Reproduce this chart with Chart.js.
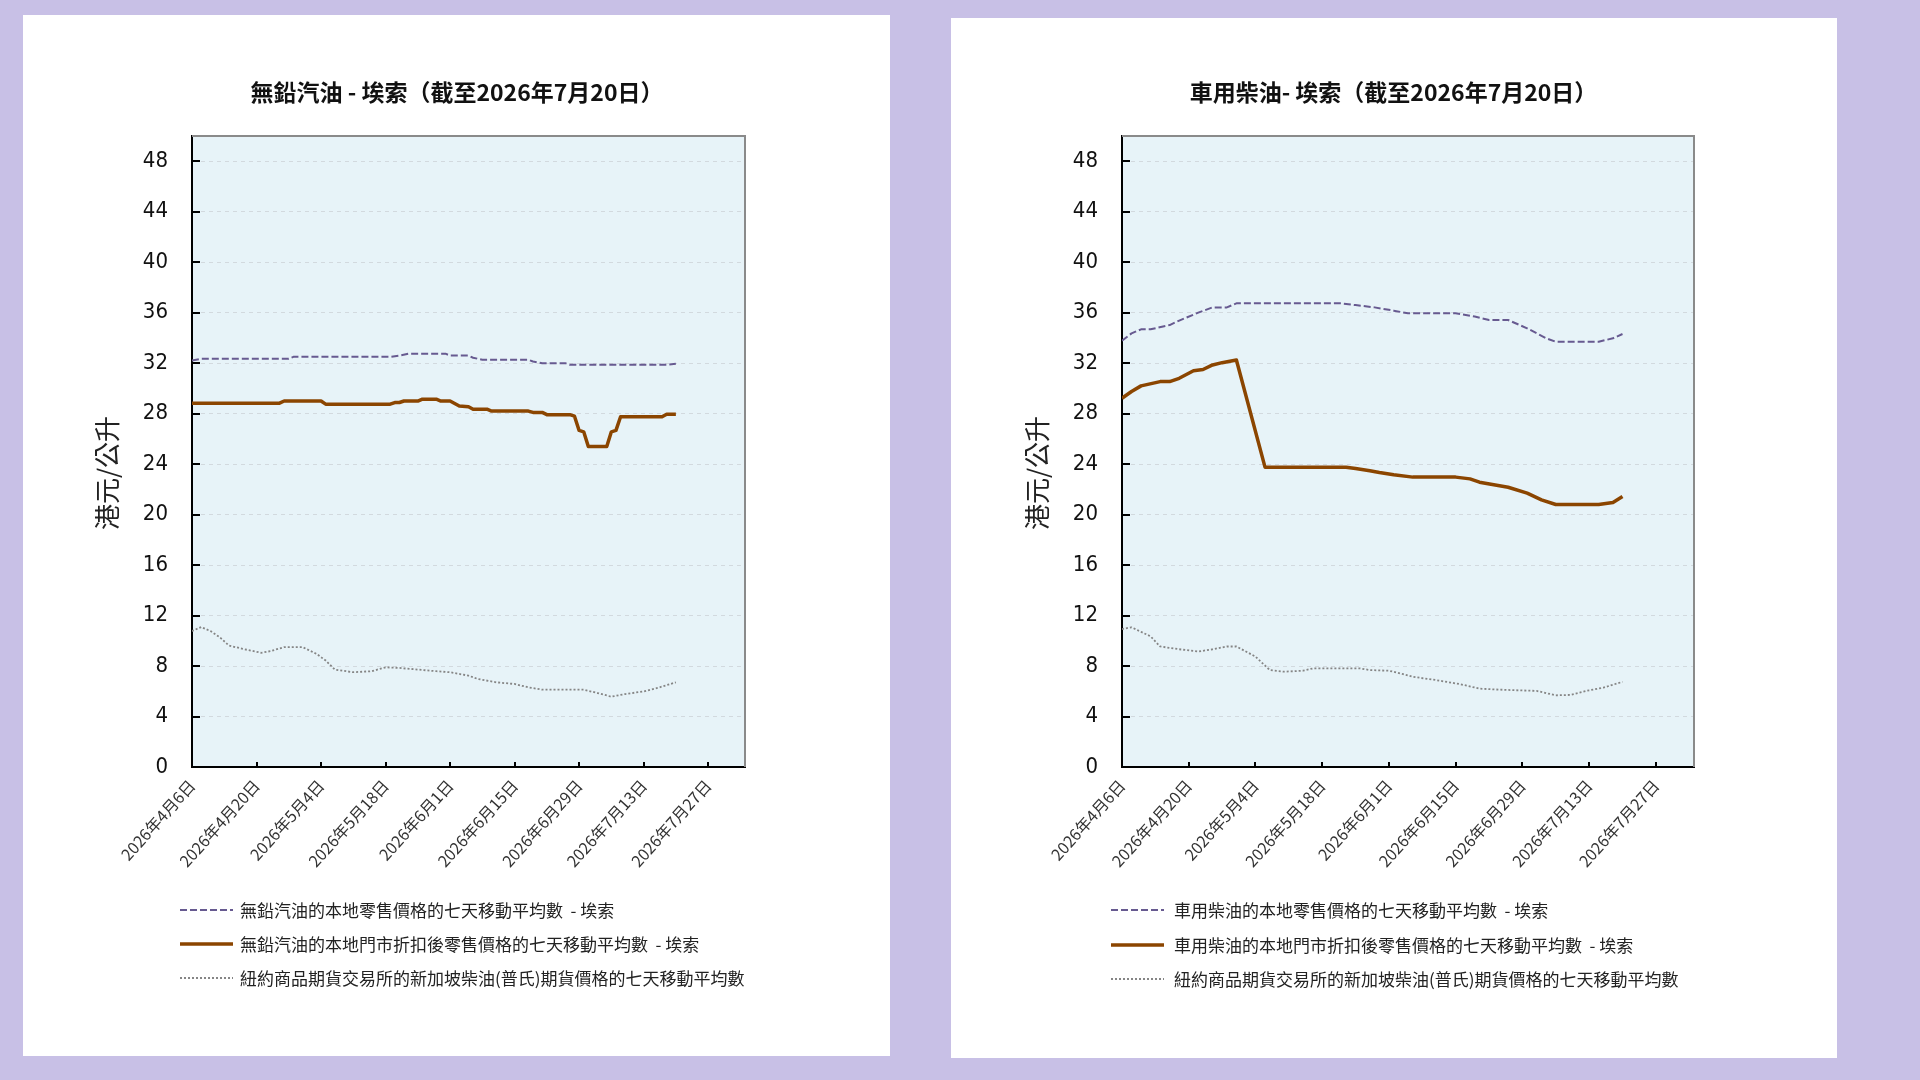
<!DOCTYPE html>
<html>
<head>
<meta charset="utf-8">
<script src="https://cdn.jsdelivr.net/npm/chart.js@4.4.1/dist/chart.umd.min.js"></script>
<style>
  html, body { margin:0; padding:0; }
  body { width:1920px; height:1080px; background:#c8c0e6; position:relative; overflow:hidden; font-family:"Noto Sans CJK TC","Noto Sans",sans-serif; }
  .panel { position:absolute; background:#ffffff; }
  .box { position:absolute; left:0; top:0; width:100%; height:100%; }
  .legend { position:absolute; left:0; top:0; }
  .row { position:absolute; display:flex; align-items:center; white-space:pre; font-size:17px; color:#222; line-height:20px; }
  .row svg { display:block; }
</style>
</head>
<body>
<div class="panel" id="p1" style="left:23px; top:15px; width:867px; height:1041px;">
  <div class="box"><canvas id="c1"></canvas></div>
  <div class="legend" id="l1"></div>
</div>
<div class="panel" id="p2" style="left:951px; top:18px; width:886px; height:1040px;">
  <div class="box"><canvas id="c2"></canvas></div>
  <div class="legend" id="l2"></div>
</div>
<script>
// ---------- shared axis data ----------
const xTickDays = [0, 14, 28, 42, 56, 70, 84, 98, 112];
const xTickLabels = ['2026年4月6日','2026年4月20日','2026年5月4日','2026年5月18日','2026年6月1日','2026年6月15日','2026年6月29日','2026年7月13日','2026年7月27日'];
const yTickValues = [0, 4, 8, 12, 16, 20, 24, 28, 32, 36, 40, 44, 48];
const yAxisTitle = '港元/公升';

// ---------- left chart: unleaded petrol ----------
const petrolTitle = '無鉛汽油 - 埃索（截至2026年7月20日）';
const petrolLabels = [
  '無鉛汽油的本地零售價格的七天移動平均數  - 埃索',
  '無鉛汽油的本地門市折扣後零售價格的七天移動平均數  - 埃索',
  '紐約商品期貨交易所的新加坡柴油(普氏)期貨價格的七天移動平均數'
];
const petrolRetailDays = [0, 2, 21, 22, 43, 45, 47, 55, 56, 60, 61, 63, 73, 74, 76, 81, 82, 103, 105];
const petrolRetailVals = [32.2, 32.35, 32.35, 32.5, 32.5, 32.6, 32.75, 32.75, 32.6, 32.6, 32.43, 32.27, 32.27, 32.13, 32.0, 32.0, 31.87, 31.87, 31.95];
const petrolDiscDays = [0, 19, 20, 28, 29, 43, 44, 45, 46, 49, 50, 53, 54, 56, 58, 60, 61, 64, 65, 73, 74, 76, 77, 82, 83, 84, 85, 86, 90, 91, 92, 93, 102, 103, 105];
const petrolDiscVals = [28.83, 28.83, 29.0, 29.0, 28.75, 28.75, 28.88, 28.88, 29.0, 29.0, 29.15, 29.15, 29.0, 29.0, 28.6, 28.55, 28.35, 28.35, 28.2, 28.2, 28.1, 28.1, 27.92, 27.92, 27.8, 26.67, 26.56, 25.4, 25.4, 26.56, 26.67, 27.75, 27.75, 27.95, 27.95];
const petrolFutDays = [0, 2, 4, 6, 8, 11, 15, 17, 20, 24, 27, 29, 31, 35, 39, 42, 45, 49, 53, 56, 60, 62, 66, 70, 73, 76, 85, 88, 91, 94, 98, 101, 105];
const petrolFutVals = [10.77, 11.09, 10.77, 10.29, 9.63, 9.36, 9.05, 9.18, 9.5, 9.5, 8.97, 8.44, 7.72, 7.51, 7.59, 7.9, 7.85, 7.72, 7.59, 7.51, 7.24, 6.98, 6.71, 6.58, 6.31, 6.13, 6.13, 5.86, 5.57, 5.78, 5.99, 6.26, 6.71];

// ---------- right chart: diesel ----------
const dieselTitle = '車用柴油- 埃索（截至2026年7月20日）';
const dieselLabels = [
  '車用柴油的本地零售價格的七天移動平均數  - 埃索',
  '車用柴油的本地門市折扣後零售價格的七天移動平均數  - 埃索',
  '紐約商品期貨交易所的新加坡柴油(普氏)期貨價格的七天移動平均數'
];
const dieselRetailDays = [0, 2, 4, 6, 10, 12, 16, 19, 22, 24, 46, 49, 53, 57, 60, 70, 74, 77, 81, 85, 89, 91, 100, 103, 105];
const dieselRetailVals = [33.78, 34.36, 34.68, 34.68, 35.02, 35.37, 36.0, 36.42, 36.42, 36.74, 36.74, 36.6, 36.42, 36.16, 35.95, 35.95, 35.7, 35.42, 35.42, 34.76, 33.97, 33.7, 33.7, 33.97, 34.31];
const dieselDiscDays = [0, 2, 4, 8, 10, 12, 15, 17, 19, 21, 24, 30, 47, 49, 52, 54, 57, 61, 70, 73, 75, 81, 85, 88, 91, 100, 103, 105];
const dieselDiscVals = [29.22, 29.75, 30.2, 30.54, 30.54, 30.8, 31.4, 31.5, 31.86, 32.04, 32.25, 23.76, 23.76, 23.65, 23.47, 23.33, 23.15, 22.97, 22.97, 22.83, 22.57, 22.17, 21.7, 21.17, 20.8, 20.8, 20.96, 21.44];
const dieselFutDays = [0, 2, 6, 8, 12, 16, 19, 22, 24, 28, 31, 34, 38, 40, 50, 52, 56, 59, 61, 66, 71, 75, 79, 87, 91, 94, 98, 101, 105];
const dieselFutVals = [10.93, 11.07, 10.35, 9.55, 9.33, 9.15, 9.33, 9.55, 9.55, 8.75, 7.68, 7.55, 7.63, 7.81, 7.81, 7.68, 7.63, 7.36, 7.15, 6.88, 6.56, 6.21, 6.13, 6.03, 5.68, 5.71, 6.08, 6.29, 6.75];

// ---------- styles ----------
const retailStyle = { borderColor:'#675a90', borderWidth:2, borderDash:[7,3] };
const discStyle   = { borderColor:'#8b4500', borderWidth:3.5, borderDash:[] };
const futStyle    = { borderColor:'#858585', borderWidth:1.8, borderDash:[2,2] };

function pts(days, vals){ return days.map((d,i)=>({x:d, y:vals[i]})); }

const framePlugin = {
  id:'frame',
  beforeDraw(chart){
    const {ctx, chartArea:a} = chart;
    ctx.save();
    ctx.fillStyle = '#e7f3f8';
    ctx.fillRect(a.left, a.top, a.right-a.left, a.bottom-a.top);
    ctx.restore();
  },
  afterDraw(chart, args, opts){
    const {ctx, chartArea:a, scales:{x, y}} = chart;
    ctx.save();
    ctx.strokeStyle = '#8a8a8a'; ctx.lineWidth = 2; ctx.setLineDash([]);
    ctx.beginPath(); ctx.moveTo(a.left, a.top); ctx.lineTo(a.right, a.top); ctx.lineTo(a.right, a.bottom); ctx.stroke();
    ctx.strokeStyle = '#000'; ctx.lineWidth = 2;
    y.ticks.forEach(t=>{ const py = Math.round(y.getPixelForValue(t.value)); ctx.beginPath(); ctx.moveTo(a.left, py); ctx.lineTo(a.left+8, py); ctx.stroke(); });
    x.ticks.forEach(t=>{ const px = Math.round(x.getPixelForValue(t.value)); ctx.beginPath(); ctx.moveTo(px, a.bottom); ctx.lineTo(px, a.bottom-5); ctx.stroke(); });
    // y-axis title
    ctx.translate(opts.titleX, opts.titleY);
    ctx.rotate(-Math.PI/2);
    ctx.fillStyle = '#222';
    ctx.font = '26px "Noto Sans CJK TC", sans-serif';
    ctx.textAlign = 'center'; ctx.textBaseline = 'middle';
    ctx.fillText(yAxisTitle, 0, 0);
    ctx.restore();
  }
};

function makeChart(canvasId, title, labels, series, lay){
  const styles = [retailStyle, discStyle, futStyle];
  const datasets = series.map((s,i)=>Object.assign({
    label: labels[i],
    data: pts(s[0], s[1]),
    fill:false, pointRadius:0, tension:0, borderJoinStyle:'round', borderCapStyle:'butt'
  }, styles[i]));
  datasets[1].order = 0; datasets[0].order = 1; datasets[2].order = 2;
  return new Chart(document.getElementById(canvasId), {
    type:'line',
    data:{ datasets },
    plugins:[framePlugin],
    options:{
      responsive:true, maintainAspectRatio:false, animation:false,
      layout:{ padding:{ left:lay.left, right:lay.right, top:0, bottom:lay.bottom } },
      plugins:{
        legend:{ display:false },
        tooltip:{ enabled:false },
        title:{ display:true, text:title, color:'#111',
          font:{ family:'"Noto Sans CJK TC", sans-serif', size:23, weight:'bold', lineHeight:1.2 },
          padding:{ top:lay.titleTop, bottom:lay.titleBottom } },
        frame:{ titleX:lay.ytX, titleY:lay.ytY }
      },
      scales:{
        x:{ type:'linear', min:0, max:120,
          afterBuildTicks:(sc)=>{ sc.ticks = xTickDays.map(v=>({value:v})); },
          afterFit:(sc)=>{ sc.height = 130; },
          grid:{ display:false, drawTicks:false },
          border:{ display:true, color:'#000', width:2 },
          ticks:{ autoSkip:false, minRotation:48, maxRotation:48, padding:9, color:'#333',
            font:{ family:'"Noto Sans CJK TC", sans-serif', size:16 },
            callback:(v)=>{ const i = xTickDays.indexOf(v); return i>=0 ? xTickLabels[i] : ''; } }
        },
        y:{ type:'linear', min:0, max:50,
          afterBuildTicks:(sc)=>{ sc.ticks = yTickValues.map(v=>({value:v})); },
          afterFit:(sc)=>{ sc.width = 70; },
          grid:{ display:true, drawTicks:false, lineWidth:1,
            color:(c)=> (c.tick && c.tick.value===0) ? 'rgba(0,0,0,0)' : '#d2d9de' },
          border:{ display:true, color:'#000', width:2, dash:[4,4] },
          ticks:{ padding:24, color:'#111',
            font:{ family:'"Liberation Sans Narrow","DejaVu Sans Condensed","Liberation Sans",sans-serif', size:22 } }
        },
        // empty spacer on the right so the title centres where the original does
        yR:{ type:'linear', position:'right', min:0, max:50, display:true,
          afterFit:(sc)=>{ sc.width = lay.spacer; },
          grid:{ display:false, drawTicks:false },
          border:{ display:false },
          ticks:{ display:false }
        }
      }
    }
  });
}

function buildLegend(chart, elId, lay){
  const el = document.getElementById(elId);
  chart.data.datasets.forEach((ds, i)=>{
    const row = document.createElement('div');
    row.className = 'row';
    row.style.left = lay.legLeft + 'px';
    row.style.top = (lay.legTop[i] - 10) + 'px';
    const svg = document.createElementNS('http://www.w3.org/2000/svg','svg');
    svg.setAttribute('width', '53'); svg.setAttribute('height','20');
    svg.style.marginRight = lay.legGap + 'px';
    const ln = document.createElementNS('http://www.w3.org/2000/svg','line');
    ln.setAttribute('x1','0'); ln.setAttribute('x2','53'); ln.setAttribute('y1','10'); ln.setAttribute('y2','10');
    ln.setAttribute('stroke', ds.borderColor);
    ln.setAttribute('stroke-width', ds.borderWidth);
    if (ds.borderDash && ds.borderDash.length) ln.setAttribute('stroke-dasharray', ds.borderDash.join(','));
    svg.appendChild(ln);
    const span = document.createElement('span');
    span.textContent = ds.label;
    row.appendChild(svg); row.appendChild(span);
    el.appendChild(row);
  });
}

const lay1 = { left:99, right:98, spacer:47, bottom:159, titleTop:63.2, titleBottom:30.2, ytX:84, ytY:458,
  legLeft:157, legGap:7, legTop:[895, 929, 963] };
const lay2 = { left:101, right:102, spacer:41, bottom:161, titleTop:60.2, titleBottom:30.2, ytX:86, ytY:455,
  legLeft:160, legGap:10, legTop:[892, 927, 961] };

const ch1 = makeChart('c1', petrolTitle, petrolLabels,
  [[petrolRetailDays, petrolRetailVals],[petrolDiscDays, petrolDiscVals],[petrolFutDays, petrolFutVals]], lay1);
const ch2 = makeChart('c2', dieselTitle, dieselLabels,
  [[dieselRetailDays, dieselRetailVals],[dieselDiscDays, dieselDiscVals],[dieselFutDays, dieselFutVals]], lay2);
buildLegend(ch1, 'l1', lay1);
buildLegend(ch2, 'l2', lay2);
</script>
</body>
</html>
